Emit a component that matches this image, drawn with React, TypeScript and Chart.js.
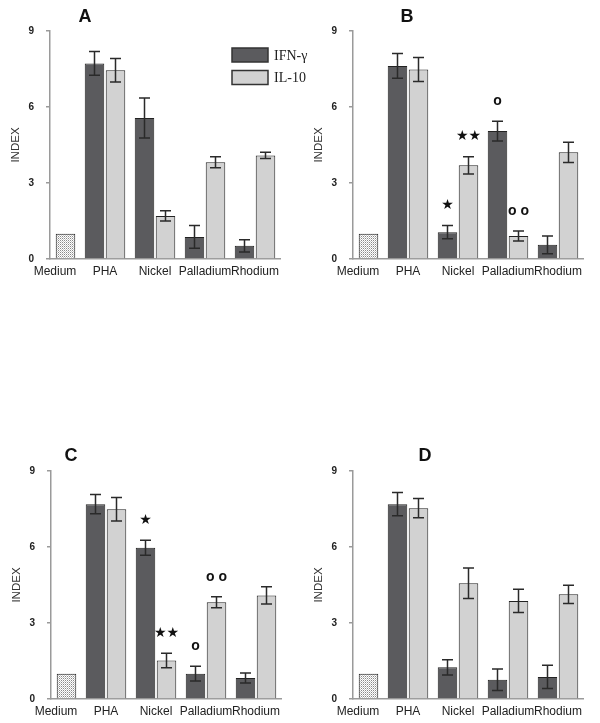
import React, { useEffect, useRef } from 'react';
import { Chart, registerables } from 'chart.js';

Chart.register(...registerables);

// ---------- data ----------
const categories = ['Medium', 'PHA', 'Nickel', 'Palladium', 'Rhodium'];
const seriesNames = ['IFN-γ', 'IL-10'];
const yTickValues = [0, 3, 6, 9];

// Panel A
const aMedium = 1.0;
const aIFN = [7.72, 5.57, 0.87, 0.52];
const aIFNErr = [0.47, 0.79, 0.45, 0.24];
const aIL10 = [7.45, 1.70, 3.82, 4.09];
const aIL10Err = [0.46, 0.20, 0.22, 0.12];
const aIFNMarks = ['', '', '', ''];
const aIL10Marks = ['', '', '', ''];

// Panel B
const bMedium = 1.0;
const bIFN = [7.62, 1.06, 5.05, 0.56];
const bIFNErr = [0.49, 0.26, 0.39, 0.35];
const bIL10 = [7.48, 3.70, 0.91, 4.21];
const bIL10Err = [0.47, 0.34, 0.20, 0.40];
const bIFNMarks = ['', '*', 'o', ''];
const bIL10Marks = ['', '**', 'oo', ''];

// Panel C
const cMedium = 1.0;
const cIFN = [7.69, 5.97, 1.00, 0.83];
const cIFNErr = [0.38, 0.30, 0.29, 0.20];
const cIL10 = [7.49, 1.52, 3.82, 4.09];
const cIL10Err = [0.46, 0.29, 0.22, 0.34];
const cIFNMarks = ['', '*', 'o', ''];
const cIL10Marks = ['', '**', 'oo', ''];

// Panel D
const dMedium = 1.0;
const dIFN = [7.69, 1.25, 0.76, 0.87];
const dIFNErr = [0.46, 0.30, 0.42, 0.46];
const dIL10 = [7.53, 4.57, 3.87, 4.13];
const dIL10Err = [0.38, 0.60, 0.46, 0.36];
const dIFNMarks = ['', '', '', ''];
const dIL10Marks = ['', '', '', ''];

// ---------- styles ----------
const IFN_COLOR = '#5b5b5e';
const IL_COLOR = '#d2d2d2';
const BORDER = '#222';
const AXIS = '#9a9a9a';
const SANS = '"Liberation Sans", Arial, sans-serif';
const SERIF = '"Liberation Serif", "Times New Roman", serif';
const PLOT_TOP = 31;
const PLOT_BOTTOM_FROM_TOP = 259;

function makePattern(): CanvasPattern | string {
  const c = document.createElement('canvas');
  c.width = 2;
  c.height = 2;
  const g = c.getContext('2d');
  if (!g) return '#ddd';
  g.fillStyle = '#ffffff';
  g.fillRect(0, 0, 2, 2);
  g.fillStyle = '#8a8a8a';
  g.fillRect(0, 0, 1, 1);
  g.fillStyle = '#c8c8c8';
  g.fillRect(1, 1, 1, 1);
  return g.createPattern(c, 'repeat') || '#ddd';
}

const errorBarPlugin = {
  id: 'errorBars',
  afterDatasetsDraw(chart: any) {
    const ctx = chart.ctx;
    const yScale = chart.scales.y;
    chart.data.datasets.forEach((ds: any, di: number) => {
      const meta = chart.getDatasetMeta(di);
      meta.data.forEach((el: any, i: number) => {
        const v = ds.data[i].y;
        const e = ds.errors ? ds.errors[i] : null;
        if (v == null) return;
        let top = yScale.getPixelForValue(v);
        if (e != null && e > 0) {
          top = yScale.getPixelForValue(v + e);
          const bot = yScale.getPixelForValue(v - e);
          const x = el.x;
          ctx.save();
          ctx.strokeStyle = '#2a2a2a';
          ctx.lineWidth = 1.5;
          ctx.beginPath();
          ctx.moveTo(x, top);
          ctx.lineTo(x, bot);
          ctx.moveTo(x - 5.5, top);
          ctx.lineTo(x + 5.5, top);
          ctx.moveTo(x - 5.5, bot);
          ctx.lineTo(x + 5.5, bot);
          ctx.stroke();
          ctx.restore();
        }
        const mark = ds.marks ? ds.marks[i] : '';
        if (mark) {
          ctx.save();
          ctx.fillStyle = '#111';
          ctx.textAlign = 'center';
          ctx.textBaseline = 'middle';
          let txt = mark;
          if (mark.indexOf('*') >= 0) {
            ctx.font = '14px "DejaVu Sans", sans-serif';
            txt = mark.replace(/\*/g, '★');
          } else {
            ctx.font = 'bold 14px ' + SANS;
            txt = mark.split('').join(' ');
          }
          ctx.fillText(txt, el.x, top - 20);
          ctx.restore();
        }
      });
    });
  },
};

const panelTitlePlugin = {
  id: 'panelTitle',
  afterDraw(chart: any) {
    const o = chart.options.plugins.panelTitle;
    if (!o) return;
    const ctx = chart.ctx;
    ctx.save();
    ctx.font = 'bold 18px ' + SANS;
    ctx.fillStyle = '#111';
    ctx.textAlign = 'center';
    ctx.textBaseline = 'middle';
    ctx.fillText(o.text, o.x, o.y);
    ctx.restore();
  },
};

const boxLegendPlugin = {
  id: 'boxLegend',
  afterDraw(chart: any) {
    const o = chart.options.plugins.boxLegend;
    if (!o || !o.show) return;
    const ctx = chart.ctx;
    ctx.save();
    chart.data.datasets.forEach((ds: any, i: number) => {
      const y = o.y + i * o.rowGap;
      ctx.fillStyle = ds.legendColor;
      ctx.fillRect(o.x, y, o.boxW, o.boxH);
      ctx.strokeStyle = '#333';
      ctx.lineWidth = 1.5;
      ctx.strokeRect(o.x, y, o.boxW, o.boxH);
      ctx.fillStyle = '#222';
      ctx.font = '14px ' + SERIF;
      ctx.textAlign = 'left';
      ctx.textBaseline = 'middle';
      ctx.fillText(ds.label, o.x + o.boxW + 6, y + o.boxH / 2 + 1);
    });
    ctx.restore();
  },
};

type PanelProps = {
  title: string;
  titleX: number;
  titleY: number;
  medium: number;
  ifn: number[];
  ifnErr: number[];
  il10: number[];
  il10Err: number[];
  ifnMarks: string[];
  il10Marks: string[];
  legend: boolean;
  left: number;
  top: number;
  width: number;
  height: number;
};

function Panel(p: PanelProps) {
  const ref = useRef<HTMLCanvasElement>(null);
  useEffect(() => {
    const canvas = ref.current;
    if (!canvas) return;
    const pattern = makePattern();
    const ifnData = [{ x: 0, y: null as number | null }].concat(
      p.ifn.map((v, i) => ({ x: i + 1, y: v }))
    );
    const ilData = [{ x: 0, y: p.medium as number | null }].concat(
      p.il10.map((v, i) => ({ x: i + 1, y: v }))
    );
    const chart = new Chart(canvas, {
      type: 'bar',
      data: {
        datasets: [
          {
            label: seriesNames[0],
            data: ifnData,
            backgroundColor: IFN_COLOR,
            legendColor: IFN_COLOR,
            borderColor: BORDER,
            borderWidth: 1,
            categoryPercentage: 0.84,
            barPercentage: 0.93,
            errors: [null, ...p.ifnErr],
            marks: ['', ...p.ifnMarks],
          },
          {
            label: seriesNames[1],
            data: ilData,
            backgroundColor: [pattern, ...p.il10.map(() => IL_COLOR)],
            legendColor: IL_COLOR,
            borderColor: BORDER,
            borderWidth: 1,
            categoryPercentage: 0.84,
            barPercentage: 0.93,
            errors: [null, ...p.il10Err],
            marks: ['', ...p.il10Marks],
          },
        ] as any,
      },
      options: {
        animation: false,
        responsive: false,
        events: [],
        layout: { padding: { top: PLOT_TOP, left: 0, right: p.width - 280, bottom: 0 } },
        scales: {
          x: {
            type: 'linear',
            min: -0.1,
            max: 4.5,
            bounds: 'data',
            offset: false,
            grid: { display: false, drawTicks: false, tickLength: 0 },
            border: { display: true, color: AXIS, width: 1.5 },
            afterBuildTicks: (s: any) => {
              s.ticks = categories.map((_, i) => ({ value: i }));
            },
            afterFit: (s: any) => {
              s.height = s.chart.height - PLOT_BOTTOM_FROM_TOP;
            },
            ticks: {
              autoSkip: false,
              maxRotation: 0,
              padding: 5,
              color: '#222',
              font: { family: SANS, size: 12 },
              callback: (_v: any, i: number) => categories[i],
            },
          },
          y: {
            min: 0,
            max: 9,
            afterBuildTicks: (s: any) => {
              s.ticks = yTickValues.map((v) => ({ value: v }));
            },
            afterFit: (s: any) => {
              s.width = 50;
            },
            grid: {
              display: true,
              drawOnChartArea: false,
              drawTicks: true,
              tickLength: 4,
              color: AXIS,
              lineWidth: 1.5,
            },
            border: { display: true, color: AXIS, width: 1.5 },
            ticks: {
              padding: 12,
              color: '#222',
              font: { family: SANS, size: 10, weight: 'bold' },
            },
            title: {
              display: true,
              text: 'INDEX',
              color: '#333',
              font: { family: SANS, size: 11.5 },
              padding: { top: 9, bottom: 0 },
            },
          },
        },
        plugins: {
          legend: { display: false },
          tooltip: { enabled: false },
          panelTitle: { text: p.title, x: p.titleX, y: p.titleY },
          boxLegend: { show: p.legend, x: 232, y: 48, rowGap: 22.5, boxW: 36, boxH: 14 },
        } as any,
      } as any,
      plugins: [errorBarPlugin, panelTitlePlugin, boxLegendPlugin],
    });
    return () => chart.destroy();
  }, []);
  return (
    <canvas
      ref={ref}
      width={p.width}
      height={p.height}
      style={{ position: 'absolute', left: p.left, top: p.top, width: p.width, height: p.height }}
    />
  );
}

export default function App() {
  return (
    <div style={{ position: 'absolute', left: 0, top: 0, width: 600, height: 723, background: '#fff', overflow: 'hidden' }}>
      <Panel title="A" titleX={85} titleY={17} medium={aMedium} ifn={aIFN} ifnErr={aIFNErr} il10={aIL10} il10Err={aIL10Err}
        ifnMarks={aIFNMarks} il10Marks={aIL10Marks} legend={true} left={0} top={0} width={330} height={290} />
      <Panel title="B" titleX={104} titleY={17} medium={bMedium} ifn={bIFN} ifnErr={bIFNErr} il10={bIL10} il10Err={bIL10Err}
        ifnMarks={bIFNMarks} il10Marks={bIL10Marks} legend={false} left={303} top={0} width={297} height={290} />
      <Panel title="C" titleX={70} titleY={16} medium={cMedium} ifn={cIFN} ifnErr={cIFNErr} il10={cIL10} il10Err={cIL10Err}
        ifnMarks={cIFNMarks} il10Marks={cIL10Marks} legend={false} left={1} top={440} width={299} height={283} />
      <Panel title="D" titleX={122} titleY={16} medium={dMedium} ifn={dIFN} ifnErr={dIFNErr} il10={dIL10} il10Err={dIL10Err}
        ifnMarks={dIFNMarks} il10Marks={dIL10Marks} legend={false} left={303} top={440} width={297} height={283} />
    </div>
  );
}
